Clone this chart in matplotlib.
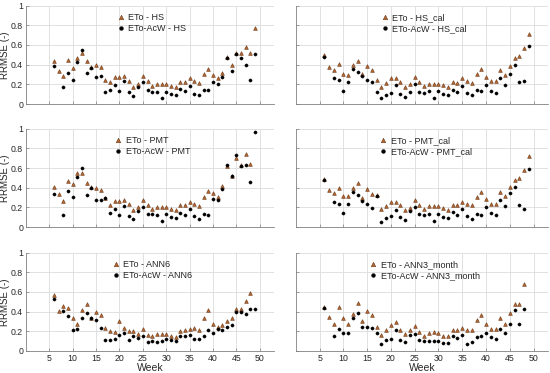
import numpy as np
import matplotlib
matplotlib.use('Agg')
import matplotlib.pyplot as plt

nan = np.nan
weeks = np.arange(6, 50)

# RRMSE per week, weeks 6..49
hs_eto = [0.44, 0.34, 0.29, 0.45, 0.37, 0.47, 0.52, 0.44, 0.38, 0.40, 0.38, 0.24, 0.22, 0.27, 0.27,
          0.29, 0.23, 0.17, 0.20, 0.28, 0.23, 0.18, 0.20, 0.20, 0.20, 0.18, 0.17, 0.22, 0.22, 0.26,
          0.23, 0.21, 0.31, 0.36, 0.30, 0.26, 0.32, 0.48, 0.40, 0.52, 0.52, 0.58, 0.52, 0.77]
hs_acw = [0.39, nan, 0.17, 0.32, 0.24, 0.43, 0.55, 0.32, 0.37, 0.27, 0.28, 0.12, 0.14, 0.19, 0.13,
          0.23, 0.12, 0.08, 0.17, 0.22, 0.14, 0.125, 0.125, 0.06, 0.125, 0.10, 0.09, 0.15, 0.13, 0.18,
          0.10, 0.09, 0.14, 0.14, 0.22, 0.20, 0.27, 0.47, 0.34, 0.51, 0.47, 0.40, 0.24, 0.51]

hscal_eto = [0.495, 0.38, 0.35, 0.41, 0.31, 0.30, 0.40, 0.44, 0.31, 0.39, 0.35, 0.24, 0.17, 0.21, 0.26,
             0.26, 0.22, 0.17, 0.20, 0.27, 0.22, 0.18, 0.20, 0.20, 0.20, 0.19, 0.17, 0.22, 0.21, 0.26,
             0.23, 0.21, 0.31, 0.36, 0.27, 0.23, 0.23, 0.35, 0.30, 0.39, 0.47, 0.485, 0.57, 0.71]
hscal_acw = [0.48, nan, 0.265, 0.24, 0.135, 0.22, 0.36, 0.325, 0.29, 0.24, 0.22, 0.12, 0.06, 0.09, 0.115,
             0.19, 0.10, 0.075, 0.12, 0.20, 0.12, 0.11, 0.13, 0.06, 0.13, 0.105, 0.095, 0.14, 0.12, 0.18,
             0.11, 0.09, 0.14, 0.13, 0.19, 0.13, 0.11, 0.26, 0.19, 0.31, 0.40, 0.22, 0.23, 0.59]

pmt_eto = [0.405, 0.34, 0.265, 0.47, 0.435, 0.55, 0.55, 0.45, 0.405, 0.40, 0.375, 0.30, 0.22, 0.27, 0.265,
           0.28, 0.235, 0.17, 0.20, 0.28, 0.23, 0.18, 0.20, 0.20, 0.20, 0.18, 0.17, 0.22, 0.22, 0.26,
           0.24, 0.215, 0.31, 0.37, 0.35, 0.305, 0.42, 0.62, 0.52, 0.70, 0.63, 0.74, 0.645, nan]
pmt_acw = [0.34, nan, 0.12, 0.37, 0.31, 0.51, 0.60, 0.325, 0.40, 0.275, 0.28, 0.295, 0.14, 0.18, 0.12,
           0.21, 0.115, 0.08, 0.16, 0.20, 0.13, 0.13, 0.125, 0.06, 0.13, 0.10, 0.09, 0.145, 0.12, 0.18,
           0.11, 0.08, 0.13, 0.125, 0.285, 0.28, 0.39, 0.63, 0.52, 0.73, 0.625, 0.63, 0.46, 0.97]

pmtcal_eto = [0.49, 0.38, 0.35, 0.40, 0.32, 0.32, 0.40, 0.445, 0.30, 0.39, 0.34, 0.33, 0.18, 0.21, 0.26,
              0.26, 0.22, 0.17, 0.19, 0.275, 0.225, 0.18, 0.21, 0.21, 0.21, 0.195, 0.17, 0.22, 0.22, 0.26,
              0.235, 0.22, 0.31, 0.36, 0.285, 0.235, 0.24, 0.36, 0.315, 0.41, 0.48, 0.50, 0.58, 0.72]
pmtcal_acw = [0.475, nan, 0.26, 0.235, 0.14, 0.235, 0.36, 0.33, 0.27, 0.24, 0.19, 0.32, 0.055, 0.09, 0.11,
              0.175, 0.10, 0.07, 0.16, 0.20, 0.13, 0.125, 0.13, 0.06, 0.135, 0.105, 0.09, 0.155, 0.12, 0.18,
              0.11, 0.085, 0.13, 0.125, 0.20, 0.14, 0.12, 0.28, 0.21, 0.35, 0.41, 0.225, 0.18, 0.59]

ann6_eto = [0.57, 0.41, 0.455, 0.44, 0.34, 0.27, 0.42, 0.48, 0.335, 0.40, 0.37, 0.23, 0.20, 0.19, 0.30,
            0.235, 0.20, 0.20, 0.17, 0.225, 0.16, 0.15, 0.17, 0.17, 0.17, 0.155, 0.14, 0.20, 0.215, 0.22,
            0.23, 0.21, 0.335, 0.415, 0.275, 0.245, 0.265, 0.30, 0.335, 0.43, 0.43, 0.51, 0.585, nan]
ann6_acw = [0.525, nan, 0.405, 0.36, 0.21, 0.225, 0.33, 0.39, 0.33, 0.31, 0.23, 0.115, 0.115, 0.12, 0.16,
            0.18, 0.11, 0.155, 0.135, 0.15, 0.095, 0.10, 0.09, 0.10, 0.12, 0.11, 0.10, 0.15, 0.15, 0.16,
            0.125, 0.12, 0.155, 0.215, 0.18, 0.22, 0.21, 0.245, 0.265, 0.40, 0.40, 0.375, 0.43, 0.43]

ann3_eto = [0.445, 0.345, 0.27, 0.45, 0.33, 0.27, 0.38, 0.485, 0.30, 0.41, 0.365, 0.245, 0.16, 0.215, 0.26,
            0.295, 0.215, 0.17, 0.21, 0.25, 0.19, 0.155, 0.185, 0.195, 0.18, 0.155, 0.155, 0.21, 0.21, 0.235,
            0.21, 0.21, 0.31, 0.37, 0.27, 0.22, 0.22, 0.33, 0.275, 0.385, 0.48, 0.48, 0.685, nan]
ann3_acw = [0.44, nan, 0.155, 0.22, 0.18, 0.18, 0.34, 0.39, 0.245, 0.245, 0.235, 0.185, 0.07, 0.11, 0.125,
            0.21, 0.11, 0.09, 0.16, 0.175, 0.11, 0.10, 0.10, 0.105, 0.105, 0.085, 0.08, 0.15, 0.13, 0.165,
            0.075, 0.095, 0.145, 0.15, 0.185, 0.145, 0.125, 0.22, 0.18, 0.275, 0.42, 0.275, 0.43, nan]

panels = [
    ('HS', hs_eto, hs_acw, 0.37),
    ('HS_cal', hscal_eto, hscal_acw, 0.34),
    ('PMT', pmt_eto, pmt_acw, 0.36),
    ('PMT_cal', pmtcal_eto, pmtcal_acw, 0.335),
    ('ANN6', ann6_eto, ann6_acw, 0.35),
    ('ANN3_month', ann3_eto, ann3_acw, 0.295),
]

txt = '#262626'
plt.rcParams['font.family'] = ['Arial', 'Liberation Sans', 'DejaVu Sans']

fig = plt.figure(figsize=(5.5, 3.73), dpi=100)

lefts = [0.047, 0.538]
widths = [0.451, 0.458]
bottoms = [0.721, 0.391, 0.059]
h = 0.264

for i, (name, eto, acw, lx) in enumerate(panels):
    r, c = divmod(i, 2)
    ax = fig.add_axes([lefts[c], bottoms[r], widths[c], h])
    ax.plot(weeks, eto, linestyle='none', marker='^', markersize=2.7,
            markerfacecolor='#b5652e', markeredgecolor='#6b3a1a', markeredgewidth=0.4,
            label='ETo - ' + name)
    ax.plot(weeks, acw, linestyle='none', marker='o', markersize=2.3,
            markerfacecolor='black', markeredgecolor='black', markeredgewidth=0.3,
            label='ETo-AcW - ' + name)
    ax.set_xlim(0, 53)
    ax.set_ylim(0, 1)
    ax.set_xticks(np.arange(5, 51, 5))
    ax.set_yticks(np.arange(0, 1.01, 0.2))
    ax.grid(True, color='#dcdcdc', linewidth=0.6)
    ax.set_axisbelow(True)
    for s in ['top', 'right']:
        ax.spines[s].set_visible(False)
    for s in ['left', 'bottom']:
        ax.spines[s].set_color('#808080')
        ax.spines[s].set_linewidth(0.6)
    ax.tick_params(direction='in', length=2.5, width=0.5, colors='#808080',
                   labelcolor=txt, labelsize=6.3, pad=2)
    ax.set_yticklabels(['0', '0.2', '0.4', '0.6', '0.8', '1'])
    if c == 0:
        ax.set_ylabel('RRMSE (-)', fontsize=7, color=txt)
        ax.yaxis.set_label_coords(-0.064, 0.5)
    else:
        ax.tick_params(labelleft=False)
    if r == 2:
        ax.set_xlabel('Week', fontsize=7.5, color=txt, labelpad=0)
    else:
        ax.tick_params(labelbottom=False)
    ax.legend(loc='upper left', bbox_to_anchor=(lx - 0.02, 0.97), frameon=False,
              fontsize=6.5, handlelength=0.8, handletextpad=0.4, borderpad=0,
              labelspacing=0.25, labelcolor=txt, markerscale=1.2)

fig.savefig('out.png', dpi=100)
